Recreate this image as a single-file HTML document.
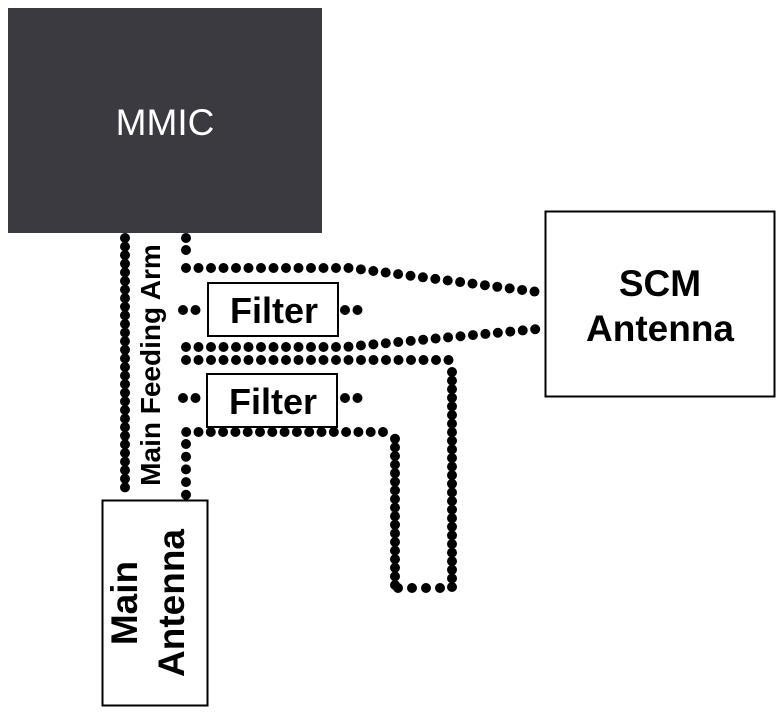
<!DOCTYPE html>
<html><head><meta charset="utf-8"><style>
html,body{margin:0;padding:0;background:#fff}
svg{display:block}
text{font-family:"Liberation Sans",sans-serif}
</style></head><body>
<svg width="784" height="722" viewBox="0 0 784 722" xmlns="http://www.w3.org/2000/svg">
<rect x="8" y="8" width="314" height="225" fill="#3a3a40"/>
<text x="165" y="135" font-size="37" fill="#fff" text-anchor="middle">MMIC</text>
<g fill="none" stroke="#000" stroke-width="10" stroke-linecap="round" stroke-linejoin="round">
<path d="M125 238 V495" stroke-dasharray="0 8.6"/>
<path d="M186 238 V262" stroke-dasharray="0 12"/>
<path d="M186 268 H350 L538 292" stroke-dasharray="0 12.5"/>
<path d="M183 310 H196 M345 310 H358" stroke-dasharray="0 12.5"/>
<path d="M186 347 H345 L538 329" stroke-dasharray="0 12.5"/>
<path d="M186 360 H452" stroke-dasharray="0 12.5"/>
<path d="M452 372 V588" stroke-dasharray="0 8.6"/>
<path d="M440 588 H397" stroke-dasharray="0 14"/>
<path d="M395 585 V432" stroke-dasharray="0 8.6"/>
<path d="M383 432 H186" stroke-dasharray="0 12.3"/>
<path d="M186 444 V495" stroke-dasharray="0 12.7"/>
<path d="M183 398 H196 M345 398 H358" stroke-dasharray="0 12.5"/>
</g>
<rect x="208" y="283" width="130" height="53" fill="#fff" stroke="#000" stroke-width="2"/>
<text x="274" y="323" font-size="36" font-weight="bold" text-anchor="middle">Filter</text>
<rect x="207" y="374" width="130" height="53" fill="#fff" stroke="#000" stroke-width="2"/>
<text x="273" y="414" font-size="36" font-weight="bold" text-anchor="middle">Filter</text>
<rect x="545.5" y="211.5" width="229" height="185" fill="#fff" stroke="#000" stroke-width="2"/>
<text x="660" y="296" font-size="37" font-weight="bold" text-anchor="middle">SCM</text>
<text x="660" y="341" font-size="37" font-weight="bold" text-anchor="middle">Antenna</text>
<rect x="102.5" y="500.5" width="105" height="205" fill="#fff" stroke="#000" stroke-width="2"/>
<text transform="translate(137,603) rotate(-90)" font-size="37" font-weight="bold" text-anchor="middle">Main</text>
<text transform="translate(184,603) rotate(-90)" font-size="37" font-weight="bold" text-anchor="middle">Antenna</text>
<text transform="translate(160,365) rotate(-90)" font-size="28" font-weight="bold" text-anchor="middle">Main Feeding Arm</text>
</svg>
</body></html>
